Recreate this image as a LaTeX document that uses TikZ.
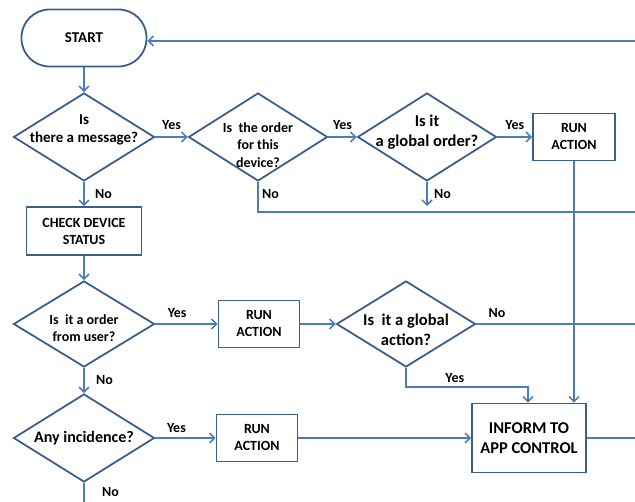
\documentclass[tikz,border=0pt]{standalone}
\usepackage{fontspec}
\setmainfont{Carlito}
\usepackage{xcolor}
\usepackage{tikz}
\usetikzlibrary{arrows.meta,shapes.geometric}
\definecolor{flowblue}{HTML}{4A7EBB}
\definecolor{boxblue}{HTML}{3A5F8E}

\begin{document}
\begin{tikzpicture}[x=1pt,y=-1pt,
  box/.style={draw=boxblue,line width=1.8pt,rectangle,inner sep=0pt,align=center},
  decision/.style={draw=boxblue,line width=1.8pt,diamond,inner sep=0pt,minimum width=141,minimum height=88},
  dtext/.style={align=center,font=\bfseries\fontsize{14}{17.5}\selectfont},
  flow/.style={draw=flowblue,line width=1.5pt},
  arr/.style={flow,-{Straight Barb[length=5pt,width=10pt]}},
  lbl/.style={font=\bfseries\fontsize{14}{16}\selectfont}]
  \useasboundingbox (0,0) rectangle (635,502);
  % first row: message checks
  \node[box,rounded corners=28pt,minimum width=125,minimum height=57,font=\bfseries\fontsize{15}{17}\selectfont] (start) at (84,38) {START};
  \node[decision,label={[dtext,font=\bfseries\fontsize{15}{17.5}\selectfont,yshift=7]center:{Is\\there a message?}}] (msg) at (84,137) {};
  \node[decision,minimum width=139,label={[dtext,yshift=-8]center:{Is\ \ the order\\for this\\device?}}] (ord) at (258,137) {};
  \node[decision,minimum width=139,label={[dtext,font=\bfseries\fontsize{16.5}{20}\selectfont,yshift=5]center:{Is it\\a global order?}}] (gord) at (427,137) {};
  \node[box,minimum width=82,minimum height=47,font=\bfseries\fontsize{14}{17}\selectfont] (run1) at (574,137) {RUN\\ACTION};
  % device status and user orders
  \node[box,minimum width=115,minimum height=48,font=\bfseries\fontsize{14}{17}\selectfont] (check) at (84,231) {CHECK DEVICE\\STATUS};
  \node[decision,minimum height=86,label={[dtext,yshift=-4]center:{Is\ \ it a order\\from user?}}] (user) at (84,324) {};
  \node[box,minimum width=81,minimum height=47,font=\bfseries\fontsize{14}{17}\selectfont] (run2) at (259,324) {RUN\\ACTION};
  \node[decision,minimum width=139,minimum height=86,label={[dtext,font=\bfseries\fontsize{16.5}{20}\selectfont,yshift=-6]center:{Is\ \ it a global\\action?}}] (gact) at (406,324) {};
  % incidences
  \node[decision,label={[dtext,font=\bfseries\fontsize{16}{19}\selectfont]center:{Any incidence?}}] (inc) at (84,438) {};
  \node[box,minimum width=81,minimum height=47,font=\bfseries\fontsize{14}{17}\selectfont] (run3) at (257,438) {RUN\\ACTION};
  \node[box,minimum width=114,minimum height=69,font=\bfseries\fontsize{16.5}{20}\selectfont] (inform) at (529,438) {INFORM TO\\APP CONTROL};
  % loose ends at the border
  \coordinate (back) at (635,41);
  \coordinate (skip) at (635,212);
  \coordinate (nolocal) at (427,206);
  \coordinate (noglobal) at (635,324);
  \coordinate (out) at (635,438);
  \coordinate (down) at (84,502);
  % connectors
  \draw[arr] (back) -- (back -| start.east);
  \draw[arr] (start) -- (msg);
  \draw[arr] (msg) -- node[lbl,above,yshift=3]{Yes} (ord);
  \draw[arr] (ord) -- node[lbl,above,yshift=3]{Yes} (gord);
  \draw[arr] (gord) -- node[lbl,above,yshift=3]{Yes} (run1);
  \draw[arr] (gord) -- node[lbl,right,xshift=3]{No} (nolocal);
  \draw[flow] (ord.south) |- node[lbl,right,pos=0.2]{No} (skip);
  \draw[arr] (msg) -- node[lbl,right,xshift=7]{No} (check);
  \draw[arr] (check) -- (user);
  \draw[arr] (user) -- node[lbl,above,pos=0.35,yshift=2]{Yes} (run2);
  \draw[arr] (run2) -- (gact);
  \draw[flow] (gact) -- node[lbl,above,pos=0.13,yshift=2]{No} (noglobal);
  \draw[arr] (gact.south) -- ++(0,19) -| node[lbl,above,pos=0.2]{Yes} ([xshift=-1]inform.north);
  \draw[arr] (run1) -- (run1 |- inform.north);
  \draw[arr] (user) -- node[lbl,right,xshift=8]{No} (inc);
  \draw[arr] (inc) -- node[lbl,above,pos=0.35,yshift=1]{Yes} (run3);
  \draw[arr] (run3) -- (inform);
  \draw[flow] (inform) -- (out);
  \draw[flow] (inc) -- node[lbl,right,xshift=14]{No} (down);
\end{tikzpicture}
\end{document}
